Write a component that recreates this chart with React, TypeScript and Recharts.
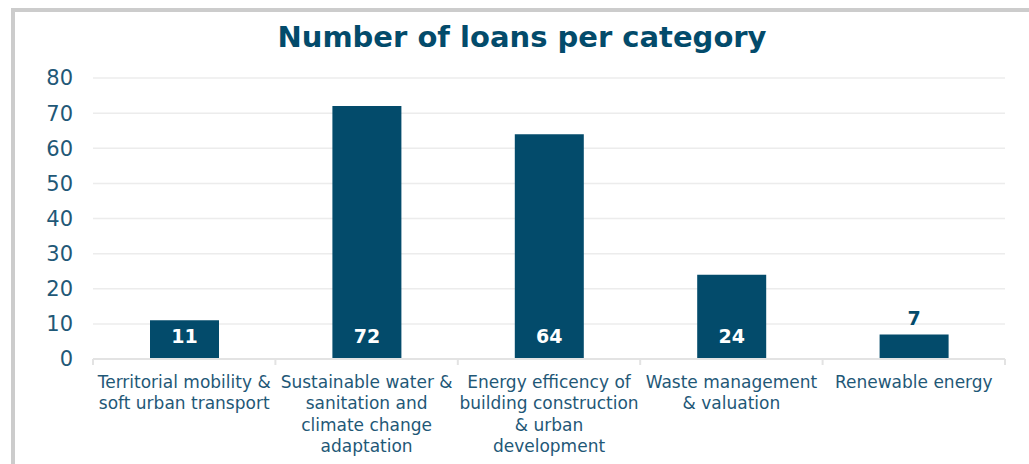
import { Bar, BarChart, CartesianGrid, LabelList, XAxis, YAxis } from "recharts";

const categories = [
  "Territorial mobility & soft urban transport",
  "Sustainable water & sanitation and climate change adaptation",
  "Energy efficency of building construction & urban development",
  "Waste management & valuation",
  "Renewable energy",
];

// line breaks as they appear under each column
const categoryLines = [
  ["Territorial mobility &", "soft urban transport"],
  ["Sustainable water &", "sanitation and", "climate change", "adaptation"],
  ["Energy efficency of", "building construction", "& urban", "development"],
  ["Waste management", "& valuation"],
  ["Renewable energy"],
];

const loans = [11, 72, 64, 24, 7];

const yTicks = [0, 10, 20, 30, 40, 50, 60, 70, 80];

const TITLE = "Number of loans per category";

const BAR = "#034b6b";
const TEXT = "#1f5877";
const FONT = "'DejaVu Sans', Verdana, sans-serif";

const WIDTH = 1029;
const HEIGHT = 464;
const MARGIN = { top: 78, right: 24, left: 0, bottom: 5 };
const Y_AXIS_W = 93;
const BAND = (WIDTH - MARGIN.right - Y_AXIS_W) / categories.length;

const rows = categories.map((c, i) => ({ category: c, loans: loans[i] }));

/** Pre-wrapped category label plus the small separator ticks between bands. */
function CategoryTick(props: {
  x?: number;
  y?: number;
  index?: number;
}) {
  const { x = 0, y = 0, index = 0 } = props;
  const lines = categoryLines[index] ?? [];
  const last = index === categories.length - 1;
  return (
    <g>
      <line x1={x - BAND / 2} x2={x - BAND / 2} y1={y} y2={y + 6} stroke="#e3e3e3" strokeWidth={2} />
      {last && (
        <line x1={x + BAND / 2} x2={x + BAND / 2} y1={y} y2={y + 6} stroke="#e3e3e3" strokeWidth={2} />
      )}
      <text x={x} y={y + 29} textAnchor="middle" fontSize={17} fill={TEXT} fontFamily={FONT}>
        {lines.map((l, i) => (
          <tspan key={i} x={x} dy={i === 0 ? 0 : 21.3}>
            {l}
          </tspan>
        ))}
      </text>
    </g>
  );
}

/** Value label: white inside the bar bottom, or dark above a bar too short to hold it. */
function ValueLabel(props: {
  x?: number;
  y?: number;
  width?: number;
  height?: number;
  value?: number;
}) {
  const { x = 0, y = 0, width = 0, height = 0, value } = props;
  const inside = height > 30;
  return (
    <text
      x={x + width / 2}
      y={inside ? y + height - 16 : y - 9}
      textAnchor="middle"
      fontSize={19}
      fontWeight={700}
      fontFamily={FONT}
      fill={inside ? "#fff" : BAR}
    >
      {value}
    </text>
  );
}

export default function App() {
  return (
    <div style={{ position: "fixed", left: 0, top: 0, width: WIDTH, height: HEIGHT, background: "#fff", overflow: "hidden" }}>
      <div
        style={{
          position: "absolute",
          left: 11,
          top: 8,
          width: WIDTH + 20,
          height: HEIGHT + 20,
          border: "4px solid #cccccc",
          boxSizing: "border-box",
        }}
      />
      <svg width={WIDTH} height={60} style={{ position: "absolute", left: 0, top: 0 }}>
        <text x={522} y={47} textAnchor="middle" fontSize={29} fontWeight={700} fontFamily={FONT} fill={BAR}>
          {TITLE}
        </text>
      </svg>
      <div style={{ position: "absolute", left: 0, top: 0 }}>
        <BarChart width={WIDTH} height={HEIGHT} data={rows} margin={MARGIN} barSize={69}>
          <CartesianGrid vertical={false} stroke="#ececec" strokeWidth={1.5} />
          <XAxis
            dataKey="category"
            interval={0}
            height={100}
            tickLine={false}
            tickSize={0}
            tickMargin={0}
            axisLine={{ stroke: "#e3e3e3", strokeWidth: 2 }}
            tick={<CategoryTick />}
          />
          <YAxis
            domain={[0, 80]}
            ticks={yTicks}
            width={Y_AXIS_W}
            axisLine={false}
            tickLine={false}
            tickSize={0}
            tickMargin={20}
            tick={{ fontSize: 21, fill: TEXT, fontFamily: FONT }}
          />
          <Bar dataKey="loans" fill={BAR} isAnimationActive={false}>
            <LabelList dataKey="loans" content={<ValueLabel />} />
          </Bar>
        </BarChart>
      </div>
    </div>
  );
}
